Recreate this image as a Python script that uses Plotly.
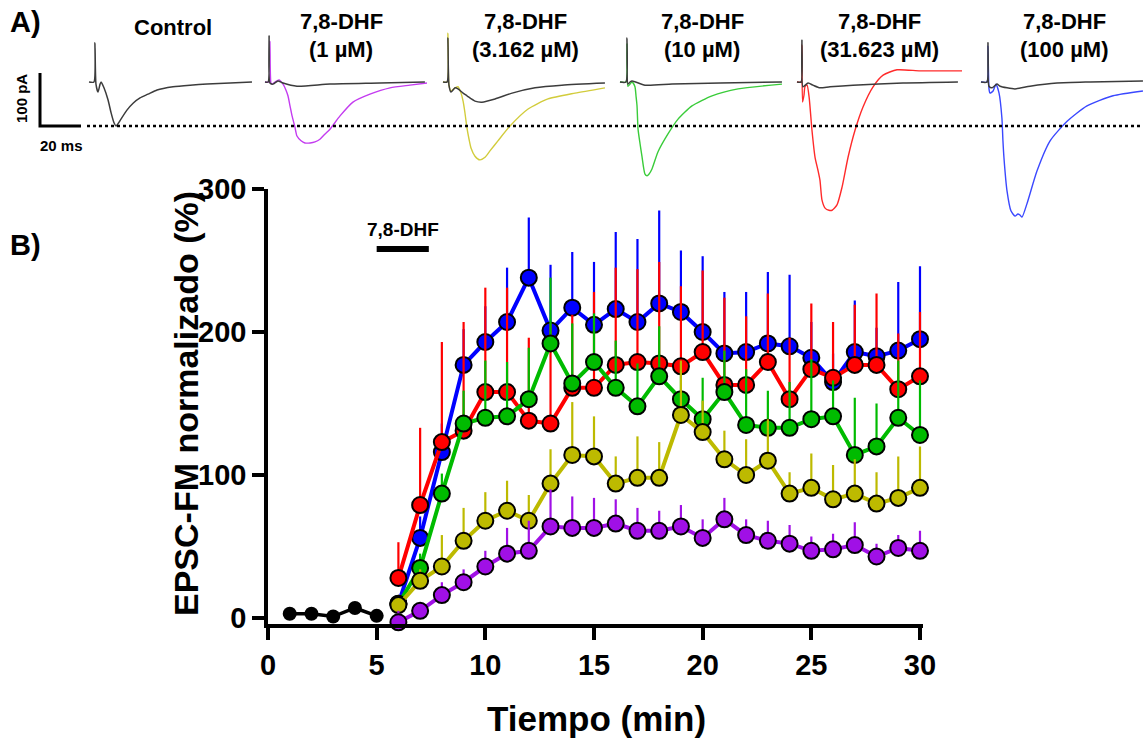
import plotly.graph_objects as go

W, H = 1143, 742

# ---------------- Panel B data ----------------
BASE_MIN = [1, 2, 3, 4, 5]
BASE_VAL = [3, 3, 1, 7, 1.5]

MINUTES = list(range(6, 31))
DHF_1 = [-3, 5, 16, 25, 36, 45, 47, 64, 63, 63, 66, 61, 61, 64, 56, 69, 58, 54, 52, 47, 48, 51, 43, 49, 47]
DHF_1_ERR = [8, 6, 9, 9, 11, 18, 21, 26, 22, 21, 17, 16, 14, 15, 13, 15, 11, 14, 13, 10, 11, 16, 9, 9, 14]
DHF_3 = [9, 26, 36, 54, 68, 75, 68, 94, 114, 113, 94, 98, 98, 142, 130, 111, 100, 110, 87, 91, 83, 87, 80, 84, 91]
DHF_3_ERR = [5, 8, 22, 23, 20, 21, 18, 24, 37, 28, 19, 29, 25, 38, 22, 20, 25, 29, 15, 24, 24, 24, 22, 29, 29]
DHF_10 = [10, 35, 87, 136, 140, 141, 153, 192, 164, 179, 161, 148, 169, 153, 139, 158, 135, 133, 133, 139, 141, 114, 120, 140, 128]
DHF_10_ERR = [5, 10, 14, 23, 40, 38, 36, 46, 42, 34, 33, 30, 35, 25, 29, 29, 39, 26, 32, 42, 25, 40, 30, 40, 38]
DHF_31 = [28, 79, 123, 131, 158, 158, 138, 136, 161, 161, 177, 179, 178, 176, 186, 163, 163, 179, 153, 174, 168, 177, 177, 160, 169]
DHF_31_ERR = [25, 54, 70, 76, 73, 73, 58, 70, 51, 67, 68, 65, 71, 56, 57, 61, 48, 48, 43, 46, 39, 42, 50, 39, 45]
DHF_100 = [10, 56, 116, 177, 193, 207, 238, 201, 217, 205, 216, 207, 220, 214, 200, 185, 186, 192, 190, 182, 165, 186, 183, 187, 195]
DHF_100_ERR = [5, 15, 20, 25, 25, 38, 42, 46, 39, 44, 54, 58, 65, 43, 53, 43, 42, 50, 50, 25, 20, 36, 20, 48, 51]

DRUG_PERIOD = [5, 7.4]
DRUG_LEVEL = 258
X_TICKS = [0, 5, 10, 15, 20, 25, 30]
Y_TICKS = [0, 100, 200, 300]

# ---------------- Panel A data (ms, pA) ----------------
CTRL_T = [0, 2.4, 2.9, 3.4, 4.4, 5.4, 5.9, 7.3, 9.3, 10.7, 12.2, 13.2, 14.1, 15.6, 18.5, 21.5, 24.9, 28.8, 33.2, 41.0, 49.3, 57.6, 68.8, 79.5]
CTRL_I = [0, 0, 74, -4, -19, -4, 0, -11, -34, -57, -77, -83, -79, -70, -53, -40, -30, -23, -15, -9, -6, -4, -2, 0]

B1_T = [0, 1.5, 2.0, 2.4, 3.9, 6.3, 8.8, 15.6, 31.7, 56.1, 78.0]
B1_I = [0, 0, 87, -2, -4, 2, -2, -8, -4, -2, 0]
D1_T = [0, 2.0, 2.4, 2.9, 3.4, 4.9, 6.8, 8.8, 10.2, 11.2, 12.2, 13.2, 14.6, 15.6, 17.6, 19.5, 22.0, 24.4, 26.8, 29.3, 31.7, 36.6, 42.9, 51.2, 61.0, 70.7, 79.0]
D1_I = [0, 0, 77, -2, -4, 0, 4, -4, -15, -26, -45, -64, -85, -102, -111, -115, -115, -113, -108, -98, -89, -64, -38, -23, -11, -6, -2]

B3_T = [0, 2.0, 2.4, 2.9, 3.9, 5.9, 7.3, 9.8, 11.7, 15.6, 19.0, 25.4, 33.7, 44.9, 58.0, 79.0]
B3_I = [0, 0, 83, -6, -19, -11, -13, -21, -26, -36, -38, -32, -21, -11, -6, -2]
D3_T = [0, 2.0, 2.4, 2.9, 3.9, 5.9, 7.3, 8.8, 9.8, 10.7, 11.7, 12.7, 13.7, 15.6, 18.0, 20.5, 22.9, 26.8, 32.7, 41.5, 51.2, 64.4, 79.0]
D3_I = [0, 0, 92, -6, -17, -11, -9, -21, -36, -58, -87, -108, -125, -140, -147, -142, -130, -111, -83, -51, -32, -21, -11]

B10_T = [0, 2.9, 3.4, 3.9, 4.9, 5.9, 12.2, 25.4, 48.8, 79.0]
B10_I = [0, 0, 83, -4, 0, 2, -6, -4, -2, 0]
D10_T = [0, 2.9, 3.4, 3.9, 5.9, 7.3, 7.8, 8.3, 8.8, 9.8, 10.7, 12.2, 13.2, 14.1, 15.6, 18.5, 23.4, 28.3, 35.1, 44.9, 57.6, 79.0]
D10_I = [0, 0, 72, -8, 0, -9, -26, -45, -89, -117, -140, -174, -177, -174, -164, -132, -98, -70, -45, -26, -13, -4]

B31_T = [0, 2.0, 2.4, 2.9, 5.4, 7.8, 11.2, 16.1, 27.3, 51.7, 78.5]
B31_I = [0, 0, 79, -9, -2, -6, -11, -9, -6, -2, 0]
D31_T = [0, 2.0, 2.4, 2.7, 3.4, 3.9, 4.9, 5.9, 7.3, 8.8, 10.2, 11.2, 12.2, 13.7, 15.6, 17.1, 19.5, 22.0, 24.9, 28.3, 32.2, 37.1, 42.0, 48.8, 60.0, 69.8, 80.5]
D31_I = [0, 0, 70, -38, -25, -9, -6, -28, -91, -142, -166, -185, -223, -238, -242, -242, -232, -198, -142, -91, -47, -9, 13, 23, 21, 21, 21]

B100_T = [0, 2.9, 3.4, 3.9, 5.4, 7.8, 9.3, 12.7, 16.6, 23.9, 37.1, 53.2, 79.0]
B100_I = [0, 0, 74, -8, -11, -4, -8, -11, -13, -8, -2, 0, 2]
D100_T = [0, 2.9, 3.4, 3.9, 4.4, 5.9, 7.3, 8.8, 10.2, 10.7, 11.2, 12.7, 14.6, 16.6, 18.0, 19.0, 20.0, 22.4, 27.3, 33.7, 42.0, 51.7, 64.4, 79.0]
D100_I = [0, 0, 68, -13, -21, -17, -4, -21, -68, -111, -143, -206, -243, -253, -249, -251, -255, -230, -168, -111, -74, -45, -26, -17]

SCALE_MS = 20
SCALE_PA = 100

# ---------------- styling / layout constants ----------------
FONT = "Liberation Sans, Arial, sans-serif"
PX_PER_MS = 2.05
PX_PER_PA = 0.53
BASE_PX = 82
PANEL_LEFT_PX = [265, 443, 620, 797, 981]
CTRL_LEFT_PX = 89

C_BLUE, C_RED, C_GREEN, C_YEL, C_PUR = "#0000FF", "#FF0000", "#00BB00", "#BDBA00", "#A010E6"
T_BLUE, T_RED, T_GREEN, T_YEL, T_PUR = "#3a48ff", "#ff2a2a", "#3acc3a", "#d2cc3c", "#c43cf0"
T_BLACK = "#3c3c3c"


def px(x):
    return x / W


def py(y):
    return 1 - y / H


fig = go.Figure()

# ---- Panel B series ----
fig.add_trace(go.Scatter(
    x=BASE_MIN, y=BASE_VAL, mode="lines+markers",
    line=dict(color="black", width=3.5),
    marker=dict(size=14, color="black"), cliponaxis=False, showlegend=False))

for vals, errs, col in [(DHF_100, DHF_100_ERR, C_BLUE), (DHF_31, DHF_31_ERR, C_RED),
                        (DHF_10, DHF_10_ERR, C_GREEN), (DHF_3, DHF_3_ERR, C_YEL),
                        (DHF_1, DHF_1_ERR, C_PUR)]:
    fig.add_trace(go.Scatter(
        x=MINUTES, y=vals, mode="lines+markers",
        line=dict(color=col, width=4),
        marker=dict(size=16, color=col, line=dict(color="black", width=2)),
        error_y=dict(type="data", array=errs, arrayminus=[0] * len(errs), symmetric=False,
                     thickness=2.2, width=0, color=col),
        cliponaxis=False, showlegend=False))

# drug application bar
fig.add_trace(go.Scatter(x=DRUG_PERIOD, y=[DRUG_LEVEL, DRUG_LEVEL], mode="lines",
                         line=dict(color="black", width=6), showlegend=False, cliponaxis=False))

# ---- Panel A traces ----
def add_wave(t, i, left_px, color, width=1.4):
    off = left_px / PX_PER_MS
    fig.add_trace(go.Scatter(x=[v + off for v in t], y=i, mode="lines", xaxis="x2", yaxis="y2",
                             line=dict(color=color, width=width, shape="spline", smoothing=0.6),
                             showlegend=False, hoverinfo="skip"))


add_wave(CTRL_T, CTRL_I, CTRL_LEFT_PX, T_BLACK, 1.5)
pairs = [(D1_T, D1_I, B1_T, B1_I, T_PUR), (D3_T, D3_I, B3_T, B3_I, T_YEL),
         (D10_T, D10_I, B10_T, B10_I, T_GREEN), (D31_T, D31_I, B31_T, B31_I, T_RED),
         (D100_T, D100_I, B100_T, B100_I, T_BLUE)]
for (dt, di, bt, bi, col), left in zip(pairs, PANEL_LEFT_PX):
    add_wave(dt, di, left, col, 1.4)
    add_wave(bt, bi, left, T_BLACK, 1.5)

# scale bar
peak = min(CTRL_I)
sb_x = 40 / PX_PER_MS
fig.add_trace(go.Scatter(x=[sb_x, sb_x, sb_x + SCALE_MS], y=[peak + SCALE_PA, peak, peak],
                         mode="lines", xaxis="x2", yaxis="y2",
                         line=dict(color="black", width=3), showlegend=False, hoverinfo="skip"))

# dotted reference line at control peak
shapes = [dict(type="line", xref="paper", yref="y2", x0=px(87), x1=1.0, y0=peak, y1=peak,
               line=dict(color="black", width=2.5, dash="dot"))]

# ---- annotations ----
ann = []


def text(x, y, s, size, angle=0, xanchor="center"):
    ann.append(dict(x=px(x), y=py(y), xref="paper", yref="paper", text=s, showarrow=False,
                    textangle=angle, xanchor=xanchor, yanchor="middle",
                    font=dict(family=FONT, size=size, color="black", weight="bold")))


text(8, 22, "A)", 29, xanchor="left")
text(8, 245, "B)", 29, xanchor="left")
text(173, 28, "Control", 22)
for xc, conc in zip([341, 525, 702, 879, 1064],
                    ["(1 µM)", "(3.162 µM)", "(10 µM)", "(31.623 µM)", "(100 µM)"]):
    text(xc, 22, "7,8-DHF", 22)
    text(xc, 50, conc, 22)
text(21, 99, "100 pA", 15, angle=-90)
text(61, 145, "20 ms", 15)
text(403, 229, "7,8-DHF", 19)
text(596, 718, "Tiempo (min)", 35)
text(186, 404, "EPSC-FM normalizado (%)", 34, angle=-90)

axis_common = dict(showgrid=False, zeroline=False, showline=True, linewidth=3.5, linecolor="black",
                   ticks="outside", ticklen=12, tickwidth=3.5, tickcolor="black", automargin=False,
                   tickfont=dict(family=FONT, size=29, color="black", weight="bold"))

X_RANGE = [0, 30.12]

fig.update_layout(
    template="none",
    width=W, height=H, margin=dict(l=0, r=0, t=0, b=0, pad=0, autoexpand=False),
    paper_bgcolor="white", plot_bgcolor="rgba(0,0,0,0)",
    showlegend=False,
    xaxis=dict(domain=[px(268), px(922.6)], range=X_RANGE, tickvals=X_TICKS, anchor="y", **axis_common),
    yaxis=dict(domain=[py(624), py(189)], range=[-4.2, 300], tickvals=Y_TICKS, anchor="x", **axis_common),
    xaxis2=dict(domain=[0, 1], range=[0, W / PX_PER_MS], visible=False, anchor="y2", automargin=False),
    yaxis2=dict(domain=[py(230), 1], range=[(BASE_PX - 230) / PX_PER_PA, BASE_PX / PX_PER_PA],
                visible=False, anchor="x2", automargin=False),
    shapes=shapes, annotations=ann,
)

fig.write_html("out.html")
